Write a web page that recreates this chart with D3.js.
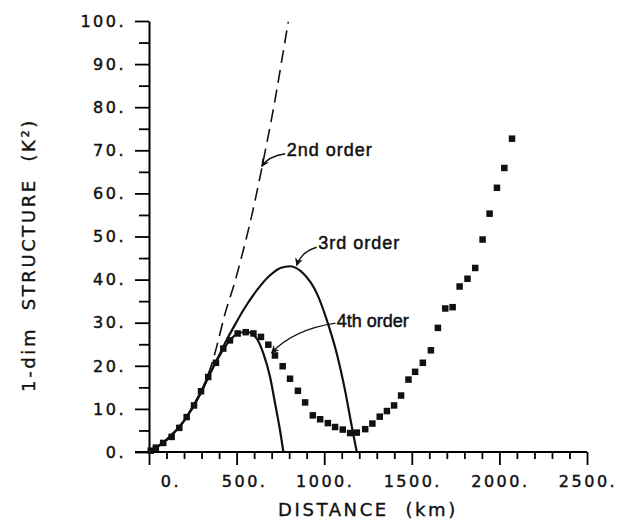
<!DOCTYPE html>
<html>
<head>
<meta charset="utf-8">
<script src="https://cdn.jsdelivr.net/npm/d3@7"></script>
<style>
  body { margin: 0; background: #fff; }
  svg { display: block; }
  .tick-label { font-family: "DejaVu Sans", sans-serif; font-size: 16px; letter-spacing: 2.5px; fill: #111; stroke: #111; stroke-width: 0.45px; }
  .axis-title { font-family: "DejaVu Sans", sans-serif; font-size: 18px; letter-spacing: 2.6px; fill: #111; stroke: #111; stroke-width: 0.35px; }
  .note { font-family: "Liberation Sans", Arial, sans-serif; font-size: 18px; fill: #111; stroke: #111; stroke-width: 0.5px; }
</style>
</head>
<body>
<div id="chart"></div>
<script>
/************************************************************
 *
 * 1-DIM STRUCTURE FUNCTION vs DISTANCE
 *
 ************************************************************/

// observed structure (squares)
var obsDist = [10, 39, 81, 129, 173, 215, 257, 297, 338, 382, 424, 462, 506, 552, 596,
               639, 681, 719, 763, 805, 850, 891, 935, 977, 1021, 1062, 1106, 1148, 1186,
               1234, 1275, 1317, 1358, 1399, 1439, 1481, 1519, 1563, 1609, 1649, 1691,
               1733, 1773, 1818, 1862, 1904, 1944, 1986, 2028, 2072];
var obsValue = [0.3, 1.0, 2.1, 3.5, 5.6, 8.1, 10.8, 14.1, 17.4, 20.7, 24.0, 25.9, 27.5, 27.8, 27.5,
                26.7, 24.9, 22.4, 19.9, 17.0, 14.2, 11.5, 8.5, 7.6, 6.7, 5.8, 5.2, 4.4, 4.5,
                5.3, 6.6, 8.2, 9.5, 10.8, 13.1, 16.8, 18.6, 20.7, 23.6, 28.8, 33.3,
                33.6, 38.4, 40.2, 42.7, 49.3, 55.3, 61.3, 65.9, 72.7];

// fitted curves
var order2Dist  = [0, 100, 200, 300, 365, 386, 434, 491, 538, 577, 653, 729, 758, 795];
var order2Value = [0, 2.8, 7.2, 14.3, 21.3, 24.4, 32.1, 39.6, 46.8, 53.2, 67.7, 83.9, 90.9, 99.8];

var order3Dist  = [0, 100, 200, 300, 348, 400, 443, 481, 538, 615, 691, 750, 805, 881, 958, 1015, 1072, 1119, 1158, 1186];
var order3Value = [0, 2.8, 7.2, 14.0, 18.3, 22.4, 26.0, 28.8, 32.9, 37.5, 41.0, 42.7, 43.1, 41.4, 36.8, 30.6, 22.8, 14.3, 5.8, 0];

var order4Dist  = [0, 100, 200, 300, 400, 462, 500, 555, 615, 653, 691, 720, 748, 767];
var order4Value = [0, 2.8, 7.2, 14.2, 22.2, 25.9, 27.3, 27.9, 26.3, 22.8, 17.4, 11.2, 5.0, 0];

// axes
var xTicks = [0, 500, 1000, 1500, 2000, 2500];
var yTicks = [0, 10, 20, 30, 40, 50, 60, 70, 80, 90, 100];

var width = 624,
    height = 522;

var svg = d3.select("#chart").append("svg")
    .attr("width", width)
    .attr("height", height);

var x = d3.scaleLinear()
    .domain([0, 2500])
    .range([149, 587]);

var y = d3.scaleLinear()
    .domain([0, 100])
    .range([452, 21]);

/************************************************************
 * AXES
 ************************************************************/

var xMinor = d3.range(0, 2501, 100);
var yMinor = d3.range(0, 101, 5);

svg.append("g")
    .attr("transform", "translate(0," + y(0) + ")")
    .call(d3.axisBottom(x).tickValues(xMinor).tickSize(7).tickSizeOuter(0).tickFormat(""))
    .call(function(g) {
      g.select(".domain").attr("stroke-width", 2).attr("d", "M" + (x(0) - 14) + ",0H" + x(2500));
      g.selectAll(".tick line").attr("stroke-width", 1.8)
        .attr("y2", function(d) { return d % 500 === 0 ? 13 : 7; });
    });

svg.append("g")
    .attr("transform", "translate(" + x(0) + ",0)")
    .call(d3.axisLeft(y).tickValues(yMinor).tickSize(10).tickSizeOuter(0).tickFormat(""))
    .call(function(g) {
      g.select(".domain").attr("stroke-width", 2);
      g.selectAll(".tick line").attr("stroke-width", 1.8)
        .attr("x2", function(d) { return d % 10 === 0 ? -14 : -10; });
    });

svg.append("g").selectAll("text")
    .data(xTicks)
  .enter().append("text")
    .attr("class", "tick-label")
    .attr("text-anchor", "middle")
    .attr("x", function(d) { return x(d); })
    .attr("dx", function(d) { return d === 0 ? 22 : (d === 500 ? 8 : 1); })
    .attr("y", 487)
    .text(function(d) { return d + "."; });

svg.append("g").selectAll("text")
    .data(yTicks)
  .enter().append("text")
    .attr("class", "tick-label")
    .attr("text-anchor", "end")
    .attr("x", 126)
    .attr("y", function(d) { return y(d); })
    .attr("dy", "0.36em")
    .text(function(d) { return d + "."; });

svg.append("text")
    .attr("class", "axis-title")
    .attr("text-anchor", "middle")
    .attr("x", 368)
    .attr("y", 516)
    .text("DISTANCE\u00a0\u00a0(km)");

svg.append("text")
    .attr("class", "axis-title")
    .attr("text-anchor", "middle")
    .attr("transform", "translate(35,255) rotate(-90)")
    .text("1-dim\u00a0\u00a0STRUCTURE\u00a0\u00a0(K\u00b2)");

/************************************************************
 * CURVES + DATA
 ************************************************************/

var line = d3.line()
    .x(function(d) { return x(d[0]); })
    .y(function(d) { return y(d[1]); })
    .curve(d3.curveMonotoneX);

function pairs(xs, ys) {
  return xs.map(function(v, i) { return [v, ys[i]]; });
}

svg.append("path")
    .attr("d", line(pairs(order2Dist, order2Value)))
    .style("fill", "none")
    .style("stroke", "#111")
    .style("stroke-width", "1.6px")
    .style("stroke-dasharray", "13,7");

svg.append("path")
    .attr("d", line(pairs(order3Dist, order3Value)))
    .style("fill", "none")
    .style("stroke", "#111")
    .style("stroke-width", "2.2px");

svg.append("path")
    .attr("d", line(pairs(order4Dist, order4Value)))
    .style("fill", "none")
    .style("stroke", "#111")
    .style("stroke-width", "2.2px");

var sq = 6.5;
svg.append("g").selectAll("rect")
    .data(pairs(obsDist, obsValue))
  .enter().append("rect")
    .attr("x", function(d) { return x(d[0]) - sq / 2; })
    .attr("y", function(d) { return y(d[1]) - sq / 2; })
    .attr("width", sq)
    .attr("height", sq)
    .style("fill", "#111");

/************************************************************
 * LABELS
 ************************************************************/

svg.append("defs").append("marker")
    .attr("id", "arrow")
    .attr("viewBox", "0 0 10 10")
    .attr("refX", 9)
    .attr("refY", 5)
    .attr("markerUnits", "userSpaceOnUse")
    .attr("markerWidth", 9)
    .attr("markerHeight", 8)
    .attr("orient", "auto")
  .append("path")
    .attr("d", "M0,0L10,5L0,10L3,5Z")
    .style("fill", "#111");

var notes = [
  {label: "2nd order", at: [786, 68.6], from: [777, 69.2], ctrl: [681, 68.6], tip: [643, 66.3], ls: 1},
  {label: "3rd order", at: [966, 47.2], from: [957, 47.5], ctrl: [868, 46.4], tip: [843, 43.3], ls: 1},
  {label: "4th order", at: [1072, 28.9], from: [1064, 29.9], ctrl: [822, 28.4], tip: [700, 23.0], ls: 0}
];

var notesG = svg.append("g");

notesG.selectAll("path")
    .data(notes)
  .enter().append("path")
    .attr("d", function(d) {
      return "M" + x(d.from[0]) + "," + y(d.from[1]) +
             "Q" + x(d.ctrl[0]) + "," + y(d.ctrl[1]) + " " + x(d.tip[0]) + "," + y(d.tip[1]);
    })
    .style("fill", "none")
    .style("stroke", "#111")
    .style("stroke-width", "1.4px")
    .attr("marker-end", "url(#arrow)");

notesG.selectAll("text")
    .data(notes)
  .enter().append("text")
    .attr("class", "note")
    .attr("x", function(d) { return x(d.at[0]); })
    .attr("y", function(d) { return y(d.at[1]); })
    .style("letter-spacing", function(d) { return d.ls + "px"; })
    .text(function(d) { return d.label; });
</script>
</body>
</html>
